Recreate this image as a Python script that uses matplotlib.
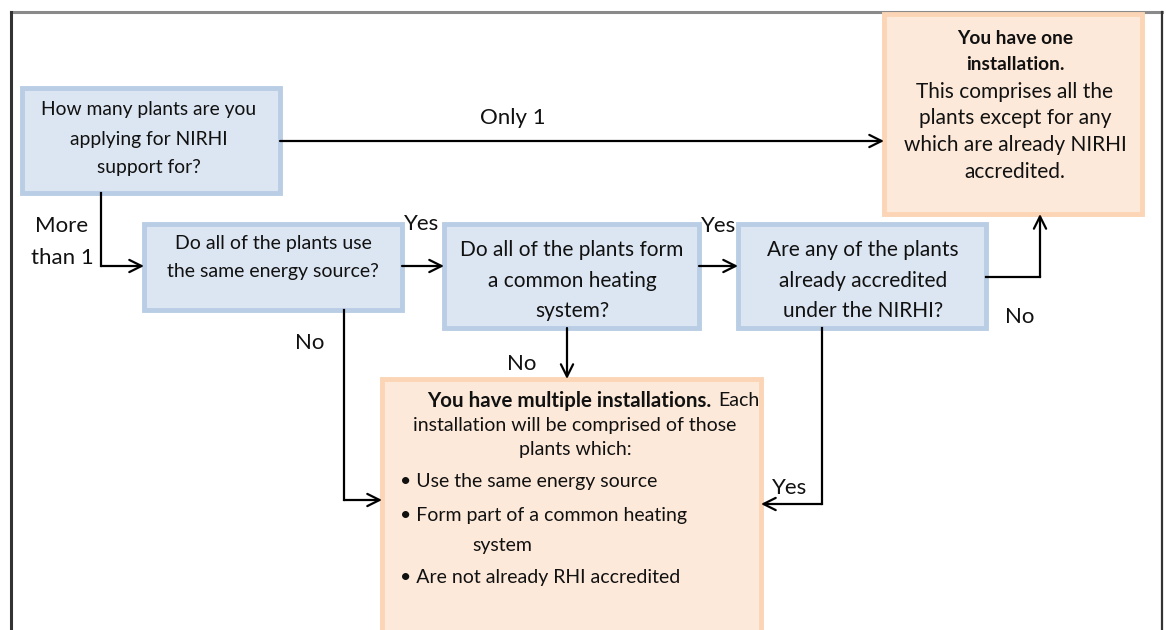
import matplotlib
matplotlib.use("Agg")
import matplotlib.pyplot as plt
from matplotlib.patches import Rectangle

plt.rcParams['font.family'] = ['Lato', 'DejaVu Sans']

# box texts
q_count = ["How many plants are you", "applying for NIRHI", "support for?"]
q_energy = ["Do all of the plants use", "the same energy source?"]
q_heating = ["Do all of the plants form", "a common heating", "system?"]
q_accred = ["Are any of the plants", "already accredited", "under the NIRHI?"]
one_bold = ["You have one", "installation."]
one_text = ["This comprises all the", "plants except for any", "which are already NIRHI", "accredited."]
multi_bold = "You have multiple installations."
multi_text = ["Each", "installation will be comprised of those", "plants which:"]
multi_bullets = ["Use the same energy source", "Form part of a common heating", "Are not already RHI accredited"]
multi_wrap = "system"

# edge labels
lbl_only = "Only 1"
lbl_more = ["More", "than 1"]
lbl_yes = "Yes"
lbl_no = "No"

BLUE_FILL, BLUE_EDGE = '#dce6f2', '#b9cde5'
ORANGE_FILL, ORANGE_EDGE = '#fde9d9', '#fbd5b5'
TXT = '#111111'

fig = plt.figure(figsize=(11.68, 6.3), dpi=100)
ax = fig.add_axes([0, 0, 1, 1])
ax.set_xlim(0, 1168)
ax.set_ylim(630, 0)
ax.axis('off')

# outer frame
ax.plot([11, 1162], [12, 12], color='#8a8a8a', lw=2.2, zorder=1)
ax.plot([11, 11], [12, 630], color='#333333', lw=2.2, zorder=1)
ax.plot([1162, 1162], [12, 630], color='#333333', lw=1.6, zorder=1)


def box(x0, y0, x1, y1, fill, edge):
    ax.add_patch(Rectangle((x0, y0), x1 - x0, y1 - y0, facecolor=fill,
                           edgecolor=edge, lw=3.5, zorder=2))


def lines(cx, ys, texts, **kw):
    for y, t in zip(ys, texts):
        ax.text(cx, y, t, ha='center', va='center', color=TXT, zorder=4, **kw)


def arrow(pts):
    xs, ys = zip(*pts)
    ax.plot(xs[:-1], ys[:-1], color='black', lw=1.6, zorder=3)
    ax.annotate('', xy=pts[-1], xytext=pts[-2],
                arrowprops=dict(arrowstyle='->', color='black', lw=1.6,
                                mutation_scale=22, shrinkA=0, shrinkB=0), zorder=3)


# boxes
box(22, 88, 280, 193, BLUE_FILL, BLUE_EDGE)
box(144, 224, 402, 310, BLUE_FILL, BLUE_EDGE)
box(444, 224, 699, 328, BLUE_FILL, BLUE_EDGE)
box(738, 224, 986, 328, BLUE_FILL, BLUE_EDGE)
box(884, 14, 1142, 214, ORANGE_FILL, ORANGE_EDGE)
box(382, 379, 761, 640, ORANGE_FILL, ORANGE_EDGE)

lines(149, [110, 139, 168], q_count, fontsize=13.9)
lines(273, [243, 272], q_energy, fontsize=14)
lines(572, [250, 281, 311], q_heating, fontsize=15)
lines(863, [250, 281, 311], q_accred, fontsize=15)
lines(1015, [38, 65], one_bold, fontsize=13.8, fontweight='bold')
lines(1015, [92, 118, 145, 172], one_text, fontsize=15)

ax.text(711, 401, multi_bold, ha='right', va='center', color=TXT,
        fontsize=14.8, fontweight='bold', zorder=4)
ax.text(718, 401, multi_text[0], ha='left', va='center', color=TXT, fontsize=14, zorder=4)
lines(575, [425, 449], multi_text[1:], fontsize=14)
for y, t in zip([482, 516, 577], multi_bullets):
    ax.text(400, y, '\u2022 ' + t, ha='left', va='center', color=TXT, fontsize=14, zorder=4)
ax.text(472, 545, multi_wrap, ha='left', va='center', color=TXT, fontsize=14, zorder=4)

# connectors
arrow([(280, 141), (884, 141)])
arrow([(101, 193), (101, 266), (144, 266)])
arrow([(402, 266), (444, 266)])
arrow([(699, 266), (738, 266)])
arrow([(986, 277), (1040, 277), (1040, 214)])
arrow([(344, 310), (344, 500), (382, 500)])
arrow([(567, 328), (567, 379)])
arrow([(822, 328), (822, 504), (761, 504)])

lfs = 16
ax.text(513, 118, lbl_only, ha='center', va='center', fontsize=lfs, color=TXT)
ax.text(62, 226, lbl_more[0], ha='center', va='center', fontsize=lfs, color=TXT)
ax.text(62, 258, lbl_more[1], ha='center', va='center', fontsize=lfs, color=TXT)
ax.text(422, 224, lbl_yes, ha='center', va='center', fontsize=lfs, color=TXT)
ax.text(719, 226, lbl_yes, ha='center', va='center', fontsize=lfs, color=TXT)
ax.text(1020, 317, lbl_no, ha='center', va='center', fontsize=lfs, color=TXT)
ax.text(310, 343, lbl_no, ha='center', va='center', fontsize=lfs, color=TXT)
ax.text(522, 364, lbl_no, ha='center', va='center', fontsize=lfs, color=TXT)
ax.text(790, 488, lbl_yes, ha='center', va='center', fontsize=lfs, color=TXT)

fig.savefig('out.png', dpi=100, facecolor='white')
